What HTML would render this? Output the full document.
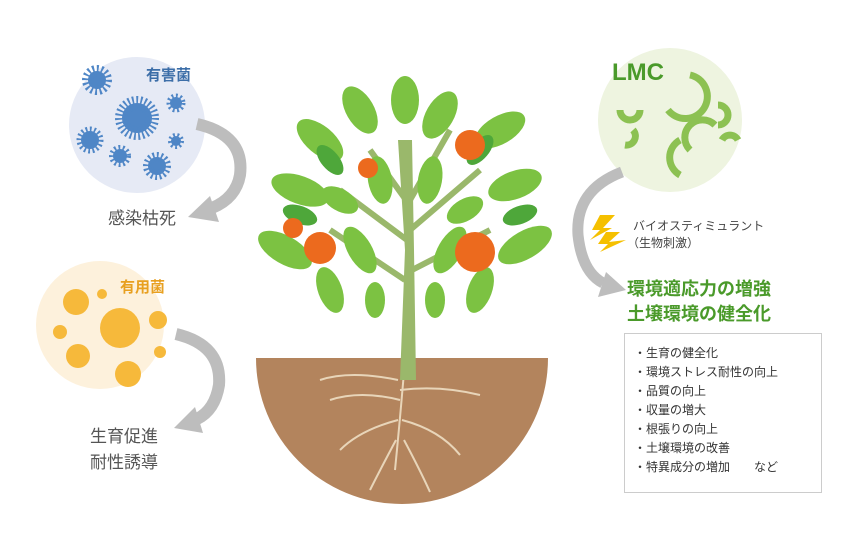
<!DOCTYPE html>
<html><head><meta charset="utf-8"><style>
body{margin:0;background:#fff;width:844px;height:554px;overflow:hidden;font-family:"Liberation Sans","Noto Sans CJK JP",sans-serif}
</style></head><body>
<svg width="844" height="554" viewBox="0 0 844 554" xmlns="http://www.w3.org/2000/svg" font-family="Liberation Sans, Noto Sans CJK JP, sans-serif">
<!-- left circles -->
<circle cx="137" cy="125" r="68" fill="#e6eaf5"/>
<g fill="#4f86c6" stroke="#4f86c6" stroke-dasharray="1.5 2">
<circle cx="97" cy="80" r="9" stroke-width="12"/>
<circle cx="137" cy="118" r="15" stroke-width="14"/>
<circle cx="176" cy="103" r="6" stroke-width="7"/>
<circle cx="90" cy="140" r="9" stroke-width="9"/>
<circle cx="120" cy="156" r="7" stroke-width="8"/>
<circle cx="176" cy="141" r="5" stroke-width="6"/>
<circle cx="157" cy="166" r="9" stroke-width="10"/>
</g>
<text x="146" y="80" font-size="15" font-weight="bold" fill="#3c6ea8">有害菌</text>
<path d="M197,124 Q245,135 240,175 Q236,198 212,208" fill="none" stroke="#bdbdbd" stroke-width="12"/>
<polygon points="188,217 210,196 219,222" fill="#bdbdbd"/>
<text x="108" y="224" font-size="17" fill="#555">感染枯死</text>

<circle cx="100" cy="325" r="64" fill="#fdf1dc"/>
<g fill="#f6b93b">
<circle cx="76" cy="302" r="13"/><circle cx="120" cy="328" r="20"/><circle cx="158" cy="320" r="9"/>
<circle cx="78" cy="356" r="12"/><circle cx="128" cy="374" r="13"/><circle cx="60" cy="332" r="7"/><circle cx="102" cy="294" r="5"/><circle cx="160" cy="352" r="6"/>
</g>
<text x="120" y="292" font-size="15" font-weight="bold" fill="#e8a020">有用菌</text>
<path d="M176,334 Q222,345 219,385 Q215,410 197,419" fill="none" stroke="#bdbdbd" stroke-width="12"/>
<polygon points="174,428 195,407 203,433" fill="#bdbdbd"/>
<text x="90" y="442" font-size="17" fill="#555">生育促進</text>
<text x="90" y="468" font-size="17" fill="#555">耐性誘導</text>

<!-- soil -->
<path d="M256,358 L548,358 A146,146 0 0 1 256,358z" fill="#b3845d"/>
<g stroke="#e8d5b9" stroke-width="2" fill="none">
<path d="M405,360 Q400,420 395,470 M400,400 Q360,390 330,400 M400,390 Q440,385 480,395 M398,420 Q360,430 340,450 M402,420 Q440,430 460,455 M396,440 Q380,470 370,490 M404,440 Q420,470 430,492 M398,380 Q350,370 320,380"/>
</g>
<!-- trunk -->
<path d="M400,380 L405,250 L398,140 L412,140 L414,250 L416,380z" fill="#9ab86b"/>
<g stroke="#9ab86b" stroke-width="6" fill="none">
<path d="M407,240 L340,190 M410,230 L480,170 M405,280 L330,230 M412,270 L490,230 M406,200 L370,150 M410,200 L450,130"/>
</g>
<!-- leaves -->
<g fill="#7cc242">
<ellipse cx="360" cy="110" rx="14" ry="26" transform="rotate(-30 360 110)"/>
<ellipse cx="405" cy="100" rx="14" ry="24"/>
<ellipse cx="440" cy="115" rx="14" ry="26" transform="rotate(30 440 115)"/>
<ellipse cx="320" cy="140" rx="14" ry="28" transform="rotate(-50 320 140)"/>
<ellipse cx="500" cy="130" rx="14" ry="28" transform="rotate(60 500 130)"/>
<ellipse cx="300" cy="190" rx="14" ry="30" transform="rotate(-70 300 190)"/>
<ellipse cx="515" cy="185" rx="14" ry="28" transform="rotate(70 515 185)"/>
<ellipse cx="285" cy="250" rx="14" ry="30" transform="rotate(-60 285 250)"/>
<ellipse cx="525" cy="245" rx="14" ry="30" transform="rotate(60 525 245)"/>
<ellipse cx="330" cy="290" rx="12" ry="24" transform="rotate(-20 330 290)"/>
<ellipse cx="480" cy="290" rx="12" ry="24" transform="rotate(20 480 290)"/>
<ellipse cx="360" cy="250" rx="12" ry="26" transform="rotate(-30 360 250)"/>
<ellipse cx="450" cy="250" rx="12" ry="26" transform="rotate(30 450 250)"/>
<ellipse cx="380" cy="180" rx="12" ry="24" transform="rotate(-10 380 180)"/>
<ellipse cx="430" cy="180" rx="12" ry="24" transform="rotate(10 430 180)"/>
<ellipse cx="340" cy="200" rx="11" ry="20" transform="rotate(-60 340 200)"/>
<ellipse cx="465" cy="210" rx="11" ry="20" transform="rotate(60 465 210)"/>
<ellipse cx="375" cy="300" rx="10" ry="18"/>
<ellipse cx="435" cy="300" rx="10" ry="18"/>
</g>
<g fill="#4ea73a">
<ellipse cx="330" cy="160" rx="9" ry="18" transform="rotate(-40 330 160)"/>
<ellipse cx="480" cy="150" rx="9" ry="18" transform="rotate(40 480 150)"/>
<ellipse cx="300" cy="215" rx="9" ry="18" transform="rotate(-70 300 215)"/>
<ellipse cx="520" cy="215" rx="9" ry="18" transform="rotate(70 520 215)"/>
</g>
<g fill="#ec6a1e">
<circle cx="470" cy="145" r="15"/><circle cx="368" cy="168" r="10"/><circle cx="293" cy="228" r="10"/>
<circle cx="320" cy="248" r="16"/><circle cx="475" cy="252" r="20"/>
</g>

<!-- LMC -->
<circle cx="670" cy="120" r="72" fill="#eef4e0"/>
<g fill="none" stroke="#8cc152" stroke-width="7">
<path d="M690,75 A22,22 0 1 1 668,110"/>
<path d="M620,110 A10,10 0 0 0 640,110"/>
<path d="M718,105 A10,10 0 0 1 718,125"/>
<path d="M633,130 A9,9 0 0 1 625,145"/>
<path d="M680,140 A20,20 0 0 0 680,175"/>
<path d="M715,125 A16,16 0 0 0 690,150"/>
<path d="M722,140 A9,9 0 0 1 738,140"/>
</g>
<text x="612" y="80" font-size="24" font-weight="bold" fill="#4a9a2a">LMC</text>
<path d="M622,172 Q575,190 578,235 Q582,272 603,283" fill="none" stroke="#bdbdbd" stroke-width="11"/>
<polygon points="626,290 606,272 598,297" fill="#bdbdbd"/>
<polygon points="600,215 615,215 603,228 612,228 590,240 600,230 592,230" fill="#f5c000"/>
<polygon points="606,232 620,232 609,242 626,240 600,252 608,244 598,244" fill="#f5c000"/>
<text x="633" y="230" font-size="12" fill="#444">バイオスティミュラント</text>
<text x="627" y="247" font-size="12" fill="#444">（生物刺激）</text>
<text x="627" y="295" font-size="18" font-weight="bold" fill="#4a9a2a">環境適応力の増強</text>
<text x="627" y="320" font-size="18" font-weight="bold" fill="#4a9a2a">土壌環境の健全化</text>
<rect x="624.5" y="333.5" width="197" height="159" fill="#fff" stroke="#ccc"/>
<g font-size="12" fill="#333">
<text x="634" y="357">・生育の健全化</text>
<text x="634" y="376">・環境ストレス耐性の向上</text>
<text x="634" y="395">・品質の向上</text>
<text x="634" y="414">・収量の増大</text>
<text x="634" y="433">・根張りの向上</text>
<text x="634" y="452">・土壌環境の改善</text>
<text x="634" y="471">・特異成分の増加　　など</text>
</g>
</svg>
</body></html>
